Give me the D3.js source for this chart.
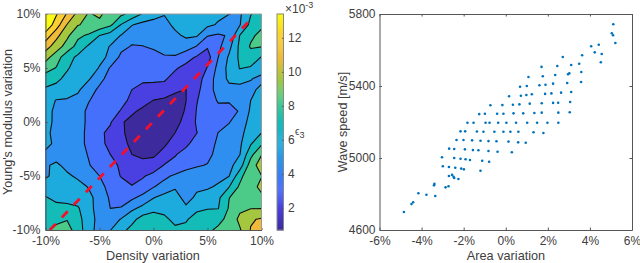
<!DOCTYPE html>
<html>
<head>
<meta charset="utf-8">
<script src="https://cdn.jsdelivr.net/npm/d3@7"></script>
<style>
  html, body { margin: 0; padding: 0; background: #fff; }
  svg { display: block; }
  text { font-family: "Liberation Sans", Arial, sans-serif; fill: #404040; }
</style>
</head>
<body>
<script>
// left panel: strain map, in contour band units (band k sits between k and k+1)
// rows run from +10% down to -10%, columns from -10% to +10%, 1% steps
var strainRows = [
  [11.0,10.1,8.9,7.7,6.9,7.2,6.5,6.2,5.7,4.9,4.4,4.05,4.3,4.5,4.6,4.4,4.2,4.02,3.85,4.95,5.5],
  [10.8,9.5,7.95,7.05,6.8,6.7,6.2,4.95,4.05,3.7,3.6,3.7,4.2,4.5,4.4,4.2,3.9,3.3,3.95,5.3,5.8],
  [9.6,8.3,7.2,6.2,5.85,4.98,4.5,3.95,3.4,3.3,3.3,3.4,3.8,4.15,4.1,3.05,2.85,3.1,5.05,5.8,6.3],
  [8.45,7.5,6.6,5.65,4.85,4.4,3.95,3.3,2.93,2.98,3.1,3.4,3.5,3.5,2.95,2.1,2.75,3.7,5.25,6.1,6.05],
  [7.4,6.45,5.4,4.8,4.5,4.2,3.85,2.75,2.6,2.7,2.75,2.9,2.9,2.35,1.9,1.6,3.0,4.15,5.2,5.6,4.95],
  [6.4,5.95,5.1,4.6,4.4,3.95,2.9,2.65,2.45,2.4,2.4,2.25,2.1,1.75,1.35,2.05,3.3,4.3,5.05,4.9,4.4],
  [5.55,5.2,4.75,4.4,4.1,3.3,2.6,2.35,2.3,2.15,2.15,2.1,1.7,1.25,1.5,2.5,3.4,4.2,4.4,4.05,3.75],
  [4.85,4.7,4.5,4.15,3.45,2.8,2.45,2.3,2.0,1.75,1.7,1.7,1.15,0.98,1.75,2.55,3.4,3.7,3.6,3.75,4.25],
  [4.5,3.95,3.9,3.7,3.05,2.6,2.4,2.2,1.85,1.35,0.98,0.8,0.7,0.98,1.95,2.5,3.1,3.12,3.05,4.0,4.6],
  [4.4,3.75,3.6,3.4,2.8,2.5,2.3,1.95,1.15,0.8,0.5,0.4,0.5,1.1,2.05,2.5,2.7,2.6,3.1,4.15,4.7],
  [4.3,3.8,3.6,3.3,2.85,2.4,2.1,1.1,0.75,0.4,0.3,0.35,0.7,1.3,2.1,2.5,2.4,2.95,3.5,4.3,4.75],
  [4.15,3.8,3.6,3.3,2.8,2.2,1.75,1.15,0.7,0.4,0.4,0.55,1.0,1.5,1.98,2.4,3.02,3.35,3.8,4.35,5.0],
  [4.2,3.85,3.6,3.3,2.8,2.3,1.7,1.35,0.75,0.6,0.7,0.85,1.4,1.85,2.3,2.65,3.15,3.6,3.85,4.9,5.85],
  [3.85,3.65,3.5,3.3,2.95,2.45,2.0,1.6,1.0,0.8,0.85,1.3,1.95,2.25,2.6,2.75,3.3,3.75,3.98,5.7,6.95],
  [3.9,4.15,3.75,3.5,3.05,2.65,2.3,1.85,1.45,1.3,1.4,2.05,2.2,2.6,2.9,3.05,3.4,3.7,4.5,6.5,7.5],
  [3.85,4.3,4.15,3.85,3.5,3.0,2.5,1.95,1.7,1.9,2.3,2.8,3.15,3.5,3.5,3.6,3.7,3.98,5.65,6.9,6.97],
  [4.55,4.65,4.5,4.3,3.95,3.3,2.7,2.4,2.05,2.35,2.95,3.35,3.9,3.7,3.85,3.85,4.15,4.97,6.2,6.7,7.2],
  [5.05,4.8,4.7,4.6,4.2,3.7,2.85,2.65,2.8,3.3,3.95,4.35,4.35,3.7,4.15,4.5,4.8,5.98,6.4,6.8,6.85],
  [5.5,5.25,5.25,5.1,4.35,3.55,3.0,3.05,3.8,4.3,4.75,4.55,4.3,4.15,4.75,4.95,4.98,6.1,6.8,6.97,6.98],
  [5.7,5.6,5.95,5.35,4.4,3.7,3.5,4.05,4.7,5.4,5.45,5.3,4.6,4.85,5.5,5.6,5.7,6.3,7.25,7.9,8.1],
  [5.7,6.4,6.4,5.5,4.4,3.6,3.97,4.7,5.3,5.5,5.5,5.4,5.3,5.35,5.5,5.8,6.2,6.5,6.9,8.05,8.8]
];
var bandLevels = [0,1,2,3,4,5,6,7,8,9,10];
var bandColors = ["#3d2b9e","#4a3fe0","#4470fb","#2e8ff0","#1dabdd","#14bcb8","#4bcb87","#a5c73f","#f0ba3a","#fbcf30","#f9fb14"];

var fitX = [-9.6, 9.1];
var fitY = [-10, 9.6];

var mapTicks = [-10,-5,0,5,10];
var barTicks = [2,4,6,8,10,12];
var barRange = [0.7,13.4];

// right panel: scatter
var areaVar = [5.11,5.04,5.10,5.21,4.42,4.06,4.23,4.56,3.63,2.71,4.52,3.49,3.11,2.45,1.70,3.59,3.02,2.96,2.35,1.76,1.08,
  3.58,2.92,2.25,1.89,1.60,1.00,0.68,3.11,2.63,2.17,1.87,1.24,0.98,0.72,0.16,3.06,2.49,2.25,1.71,1.14,0.65,0.34,-0.16,-0.73,
  3.04,2.50,1.71,1.36,0.83,0.37,-0.11,-0.41,-0.99,-1.26,
  2.50,1.98,1.49,1.02,0.49,0.03,-0.36,-0.77,-0.96,-1.53,-1.82,
  1.79,1.32,0.60,0.22,-0.11,-0.54,-1.06,-1.37,-1.93,-2.15,
  -2.34,-2.01,-1.60,-1.20,-0.82,-0.44,0.13,0.59,0.95,
  -2.69,-2.45,-1.94,-1.56,-1.30,-0.82,-0.39,0.29,
  -3.03,-2.45,-2.15,-1.91,-1.70,-1.12,-0.79,
  -2.99,-2.70,-2.40,-2.12,-1.99,-1.20,
  -2.70,-2.55,-2.48,-2.45,-2.25,
  -3.41,-3.39,-2.72,-2.86,-4.15,-3.77,-3.35,-4.40,-4.48,-4.84];
var waveSpeed = [5743,5693,5682,5639,5629,5621,5587,5578,5571,5561,5532,5524,5517,5511,5506,5478,5471,5465,5461,5454,5450,
  5422,5417,5413,5407,5404,5400,5396,5367,5363,5359,5356,5354,5350,5346,5343,5311,5307,5306,5304,5302,5298,5296,5294,5293,
  5254,5252,5252,5250,5248,5248,5246,5246,5246,5244,
  5196,5196,5196,5196,5196,5196,5196,5196,5196,5196,5196,
  5139,5143,5146,5146,5146,5146,5146,5147,5148,5148,
  5100,5100,5098,5096,5094,5093,5091,5087,5085,
  5052,5050,5048,5044,5043,5039,5035,5032,
  5004,5000,4996,4993,4989,4985,4979,
  4954,4950,4946,4941,4937,4929,
  4900,4906,4896,4889,4883,
  4848,4856,4843,4837,4804,4796,4789,4754,4744,4700];
var areaTicks = [-6,-4,-2,0,2,4,6];
var speedTicks = [4600,5000,5400,5800];

var svg = d3.select("body").append("svg")
    .attr("width", 640)
    .attr("height", 263);

var pct = function(d) { return d + "%"; };

// ---- left panel
var mapX = d3.scaleLinear().domain([-10,10]).range([45.5,261.5]);
var mapY = d3.scaleLinear().domain([-10,10]).range([230,14]);

svg.append("clipPath").attr("id","mapclip")
  .append("rect")
    .attr("x", mapX(-10)).attr("y", mapY(10))
    .attr("width", mapX(10)-mapX(-10)).attr("height", mapY(-10)-mapY(10));

var gridSize = strainRows.length;
var contours = d3.contours()
    .size([gridSize, gridSize])
    .thresholds(bandLevels)(d3.merge(strainRows));

// contour coordinates put grid node i at i+0.5
var toMap = d3.geoTransform({
  point: function(x, y) {
    this.stream.point(mapX(-10 + (x - 0.5)), mapY(10 - (y - 0.5)));
  }
});
var contourPath = d3.geoPath(toMap);

svg.append("g").attr("clip-path","url(#mapclip)")
  .selectAll("path")
  .data(contours)
  .enter().append("path")
    .attr("d", contourPath)
    .attr("fill", function(d, i) { return bandColors[i]; })
    .attr("stroke", function(d, i) { return i == 0 ? "none" : "#111"; })
    .attr("stroke-width", 1.1)
    .attr("stroke-linejoin", "round");

var fitLine = d3.line()
    .x(function(d) { return mapX(d[0]); })
    .y(function(d) { return mapY(d[1]); });

svg.append("path")
    .attr("d", fitLine(d3.zip(fitX, fitY)))
    .attr("fill","none")
    .attr("stroke","#f4102a")
    .attr("stroke-width",2.8)
    .attr("stroke-dasharray","8.5,8.9");

function styleAxis(g, col) {
  g.select(".domain").attr("stroke", col);
  g.selectAll(".tick line").attr("stroke", col);
  g.selectAll(".tick text").attr("font-size", 12).attr("fill","#404040");
}

var mapBottom = svg.append("g")
    .attr("transform","translate(0,230)")
    .call(d3.axisBottom(mapX).tickValues(mapTicks).tickFormat(pct).tickSizeInner(-2.2).tickSizeOuter(0).tickPadding(6.5));
styleAxis(mapBottom, "#555");
var mapLeft = svg.append("g")
    .attr("transform","translate(45.5,0)")
    .call(d3.axisLeft(mapY).tickValues(mapTicks).tickFormat(pct).tickSizeInner(-2.2).tickSizeOuter(0).tickPadding(5));
styleAxis(mapLeft, "#555");

svg.append("path")
    .attr("d","M45.5,14H261.5V230")
    .attr("fill","none")
    .attr("stroke","#999");

svg.append("text")
    .attr("x",153).attr("y",260)
    .attr("text-anchor","middle")
    .attr("font-size",12.7)
    .text("Density variation");
svg.append("text")
    .attr("transform","translate(12,122) rotate(-90)")
    .attr("text-anchor","middle")
    .attr("font-size",12.6)
    .text("Young's modulus variation");

// ---- colorbar
var barY = d3.scaleLinear().domain(barRange).range([230,14]);
var barColor = d3.scaleLinear()
    .domain(bandColors.map(function(d, i) { return barRange[0] + (barRange[1]-barRange[0])*i/(bandColors.length-1); }))
    .range(bandColors);

svg.append("g").selectAll("rect")
    .data(d3.range(barRange[0], barRange[1], 0.06))
    .enter().append("rect")
    .attr("x",277)
    .attr("width",6.5)
    .attr("y", function(d) { return barY(d+0.06); })
    .attr("height", function(d) { return barY(d)-barY(d+0.06)+0.5; })
    .attr("fill", function(d) { return barColor(d); });

svg.append("rect")
    .attr("x",277).attr("y",14).attr("width",6.5).attr("height",216)
    .attr("fill","none").attr("stroke","#888");

var barAxis = svg.append("g")
    .attr("transform","translate(283.5,0)")
    .call(d3.axisRight(barY).tickValues(barTicks).tickSizeInner(-1.5).tickSizeOuter(0).tickPadding(4.5));
barAxis.select(".domain").remove();
barAxis.selectAll(".tick line").attr("stroke","#555");
barAxis.selectAll(".tick text").attr("font-size",12).attr("fill","#404040");

var power = svg.append("text").attr("x",285).attr("y",12.5).attr("font-size",12);
power.append("tspan").text("×10");
power.append("tspan").attr("dy",-5).attr("font-size",9).text("-3");

var epsLabel = svg.append("text").attr("x",295).attr("y",135).attr("font-size",10);
epsLabel.append("tspan").text("ϵ");
epsLabel.append("tspan").attr("dy",3).attr("font-size",9).text("3");

// ---- right panel
var areaX = d3.scaleLinear().domain([-6,6]).range([379.5,632]);
var speedY = d3.scaleLinear().domain([4600,5800]).range([230,14]);

svg.append("g").selectAll("circle")
    .data(d3.zip(areaVar, waveSpeed))
    .enter().append("circle")
    .attr("cx", function(d) { return areaX(d[0]); })
    .attr("cy", function(d) { return speedY(d[1]); })
    .attr("r",1.3)
    .attr("fill","#0072bd");

var areaBottom = svg.append("g")
    .attr("transform","translate(0,230)")
    .call(d3.axisBottom(areaX).tickValues(areaTicks).tickFormat(pct).tickSizeInner(-2.5).tickSizeOuter(0).tickPadding(6.5));
styleAxis(areaBottom, "#555");
var areaTop = svg.append("g")
    .attr("transform","translate(0,14)")
    .call(d3.axisTop(areaX).tickValues(areaTicks).tickFormat("").tickSizeInner(-2.5).tickSizeOuter(0));
styleAxis(areaTop, "#555");
var speedLeft = svg.append("g")
    .attr("transform","translate(379.5,0)")
    .call(d3.axisLeft(speedY).tickValues(speedTicks).tickFormat(d3.format("d")).tickSizeInner(-2.5).tickSizeOuter(0).tickPadding(4));
styleAxis(speedLeft, "#555");
var speedRight = svg.append("g")
    .attr("transform","translate(632,0)")
    .call(d3.axisRight(speedY).tickValues(speedTicks).tickFormat("").tickSizeInner(-2.5).tickSizeOuter(0));
styleAxis(speedRight, "#555");

svg.append("text")
    .attr("x",506).attr("y",260)
    .attr("text-anchor","middle")
    .attr("font-size",12.7)
    .text("Area variation");
svg.append("text")
    .attr("transform","translate(347,122) rotate(-90)")
    .attr("text-anchor","middle")
    .attr("font-size",12.6)
    .text("Wave speed [m/s]");
</script>
</body>
</html>
